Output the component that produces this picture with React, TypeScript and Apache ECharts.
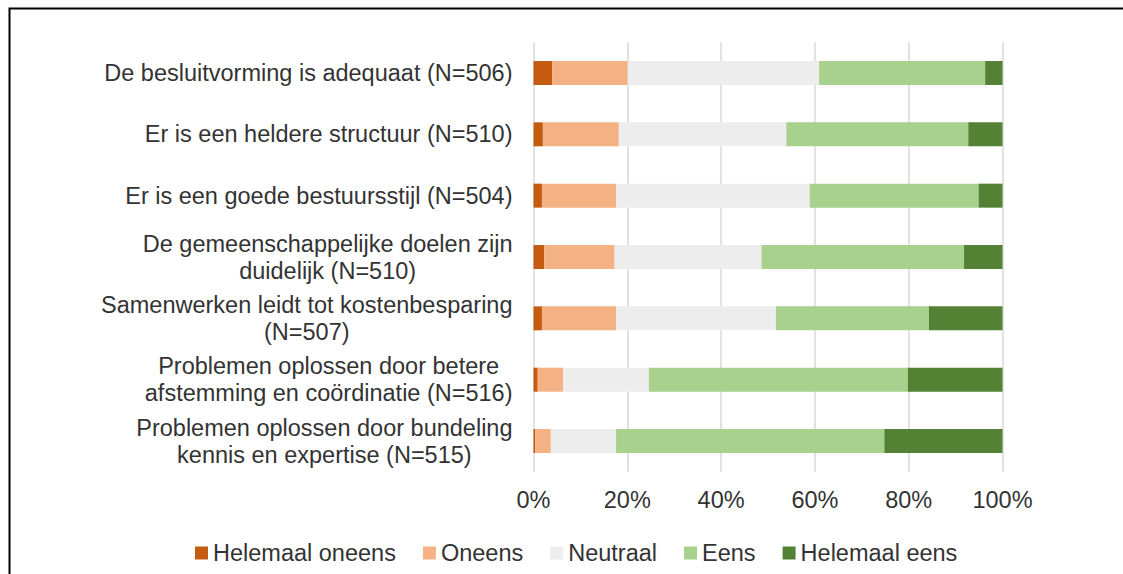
import React, { useEffect, useRef } from "react";
import * as echarts from "echarts";

const categories = [
  "De besluitvorming is adequaat (N=506)",
  "Er is een heldere structuur (N=510)",
  "Er is een goede bestuursstijl (N=504)",
  "De gemeenschappelijke doelen zijn\nduidelijk (N=510)",
  "Samenwerken leidt tot kostenbesparing\n(N=507)",
  "Problemen oplossen door betere\nafstemming en coördinatie (N=516)",
  "Problemen oplossen door bundeling\nkennis en expertise (N=515)",
];

const seriesNames = ["Helemaal oneens", "Oneens", "Neutraal", "Eens", "Helemaal eens"];

const helemaalOneens = [4.0, 2.0, 1.8, 2.3, 1.8, 0.9, 0.4];
const oneens = [16.1, 16.2, 15.8, 15.0, 15.8, 5.4, 3.3];
const neutraal = [40.8, 35.7, 41.3, 31.3, 34.1, 18.3, 13.9];
const eens = [35.4, 38.8, 36.0, 43.2, 32.6, 55.2, 57.2];
const helemaalEens = [3.7, 7.3, 5.1, 8.2, 15.7, 20.2, 25.2];

const xTicks = { min: 0, max: 100, interval: 20 };

const colors = ["#C55A11", "#F4B183", "#EDEDED", "#A9D18E", "#548235"];

const FONT = "Liberation Sans";
const FS = 23.5;
const TEXT = "#333333";

export default function App() {
  const ref = useRef<HTMLDivElement>(null);

  useEffect(() => {
    document.body.style.margin = "0";
    const chart = echarts.init(ref.current!, undefined, { renderer: "svg" });
    const values = [helemaalOneens, oneens, neutraal, eens, helemaalEens];
    chart.setOption({
      animation: false,
      backgroundColor: "#ffffff",
      color: colors,
      textStyle: { fontFamily: FONT },
      graphic: [
        {
          type: "rect",
          left: 7,
          top: 6,
          shape: { x: 0, y: 0, width: 1200, height: 700 },
          style: { fill: "none", stroke: "#000000", lineWidth: 2 },
          silent: true,
          z: 100,
        },
      ],
      grid: { left: 533.5, right: 120.5, top: 42.3, bottom: 102.3, containLabel: false },
      legend: {
        left: 190,
        top: 536,
        itemWidth: 13,
        itemHeight: 13,
        itemGap: 27,
        icon: "rect",
        textStyle: { fontFamily: FONT, fontSize: FS, color: TEXT },
        data: seriesNames,
      },
      xAxis: {
        type: "value",
        min: xTicks.min,
        max: xTicks.max,
        interval: xTicks.interval,
        axisLine: { show: false },
        axisTick: { show: false },
        splitLine: { show: true, lineStyle: { color: "#d9d9d9", width: 1.5 } },
        axisLabel: {
          formatter: "{value}%",
          fontFamily: FONT,
          fontSize: FS,
          color: TEXT,
          margin: 16,
        },
      },
      yAxis: {
        type: "category",
        inverse: true,
        data: categories,
        axisLine: { show: false },
        axisTick: { show: false },
        splitLine: { show: false },
        axisLabel: {
          margin: 21,
          align: "right",
          formatter: (v: string) =>
            v
              .split("\n")
              .map((l) => `{c|${l}}`)
              .join("\n"),
          rich: {
            c: { align: "center", fontFamily: FONT, fontSize: FS, color: TEXT, lineHeight: 27 },
          },
        },
      },
      series: seriesNames.map((name, i) => ({
        name,
        type: "bar",
        stack: "total",
        barWidth: 24,
        data: values[i],
        itemStyle: { color: colors[i] },
      })),
    });
    return () => chart.dispose();
  }, []);

  return (
    <div
      ref={ref}
      style={{ position: "absolute", left: 0, top: 0, width: 1123, height: 574 }}
    />
  );
}
